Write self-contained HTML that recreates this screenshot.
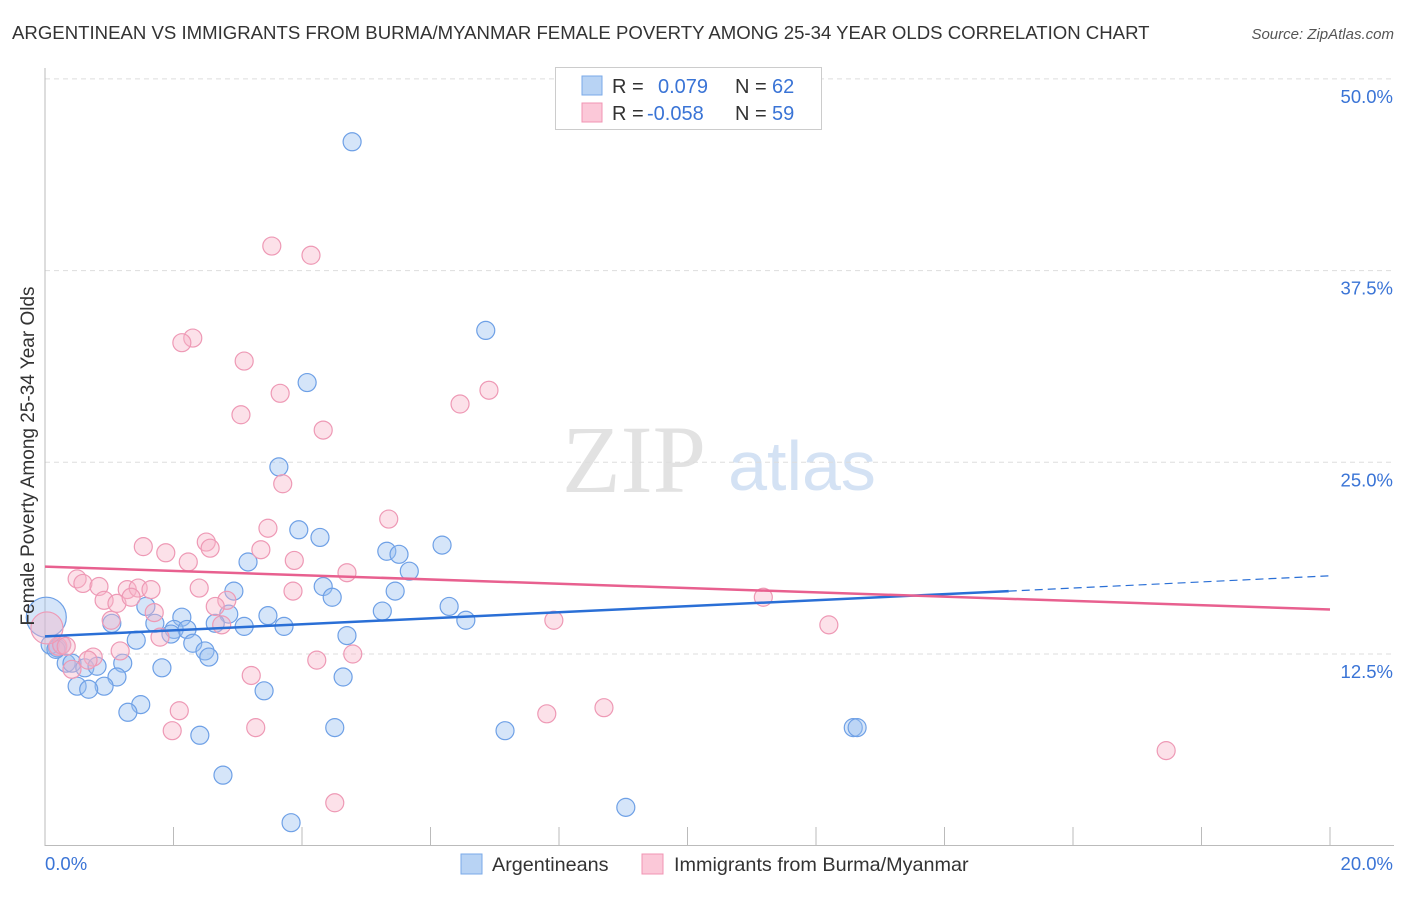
<!DOCTYPE html>
<html><head><meta charset="utf-8"><style>
body{margin:0;background:#fff;font-family:"Liberation Sans",sans-serif;}
svg text{font-family:"Liberation Sans",sans-serif;}
</style></head><body>
<svg id="chart" width="1406" height="892" xmlns="http://www.w3.org/2000/svg">
<text x="12" y="39" font-size="18.6" fill="#333">ARGENTINEAN VS IMMIGRANTS FROM BURMA/MYANMAR FEMALE POVERTY AMONG 25-34 YEAR OLDS CORRELATION CHART</text>
<text x="1394" y="39" font-size="15" fill="#555" font-style="italic" text-anchor="end">Source: ZipAtlas.com</text>
<text x="634" y="492" font-size="96" fill="#e2e2e2" text-anchor="middle" style="font-family:'Liberation Serif',serif">ZIP</text>
<text x="802" y="490" font-size="70" fill="#d4e2f4" text-anchor="middle">atlas</text>
<g id="grid"></g><g id="axes"></g><g id="pts"></g><g id="trend"></g>
<text transform="translate(34,456) rotate(-90)" font-size="19" fill="#333" text-anchor="middle">Female Poverty Among 25-34 Year Olds</text>
<g>
<rect x="555.5" y="67.5" width="266" height="62" fill="#fff" stroke="#ccc"/>
<rect x="582" y="76" width="20" height="19" fill="#b8d3f4" stroke="#7aaae8"/>
<rect x="582" y="103" width="20" height="19" fill="#fbc8d8" stroke="#f094b3"/>
<text x="612" y="93" font-size="20" fill="#333">R =</text><text x="658" y="93" font-size="20" fill="#3a74d6">0.079</text>
<text x="735" y="93" font-size="20" fill="#333">N =</text><text x="772" y="93" font-size="20" fill="#3a74d6">62</text>
<text x="612" y="120" font-size="20" fill="#333">R =</text><text x="647" y="120" font-size="20" fill="#3a74d6">-0.058</text>
<text x="735" y="120" font-size="20" fill="#333">N =</text><text x="772" y="120" font-size="20" fill="#3a74d6">59</text>
</g>
<g>
<rect x="461" y="854" width="21" height="20" fill="#b8d3f4" stroke="#7aaae8"/>
<text x="492" y="871" font-size="19.8" fill="#333">Argentineans</text>
<rect x="642" y="854" width="21" height="20" fill="#fbc8d8" stroke="#f094b3"/>
<text x="674" y="871" font-size="19.8" fill="#333">Immigrants from Burma/Myanmar</text>
</g>
</svg>
<script>
const blueX=[4.78,6.86,4.08,3.64,3.95,4.28,5.32,5.51,6.18,3.16,5.67,4.33,5.45,2.94,4.47,1.57,3.47,2.86,2.13,6.29,5.25,1.71,6.55,1.04,2.01,2.21,2.65,3.10,3.72,1.96,4.70,1.42,2.30,2.49,2.55,0.19,0.26,1.21,1.82,0.33,0.42,0.62,0.81,1.12,0.92,0.50,0.68,4.64,3.41,1.49,1.29,2.41,4.51,7.16,12.58,12.64,2.77,9.04,3.83,0.08,0.17,0.02];
const blueY=[45.9,33.6,30.2,24.7,20.6,20.1,19.2,19.0,19.6,18.5,17.9,16.9,16.6,16.6,16.2,15.6,15.0,15.1,14.9,15.6,15.3,14.5,14.7,14.5,14.1,14.1,14.5,14.3,14.3,13.8,13.7,13.4,13.2,12.7,12.3,12.9,13.1,11.9,11.6,11.9,11.9,11.6,11.7,11.0,10.4,10.4,10.2,11.0,10.1,9.2,8.7,7.2,7.7,7.5,7.7,7.7,4.6,2.5,1.5,13.1,12.8,14.9];
const blueR=[9,9,9,9,9,9,9,9,9,9,9,9,9,9,9,9,9,9,9,9,9,9,9,9,9,9,9,9,9,9,9,9,9,9,9,9,9,9,9,9,9,9,9,9,9,9,9,9,9,9,9,9,9,9,9,9,9,9,9,9,9,20];
const pinkX=[3.53,4.14,2.30,2.13,3.10,3.66,6.46,6.91,3.05,4.33,3.70,5.35,3.47,2.51,1.53,1.88,2.57,3.36,2.23,3.88,4.70,0.50,0.59,0.84,1.28,1.45,1.65,2.40,3.86,0.92,1.12,1.34,2.83,2.65,1.70,1.03,2.75,7.92,12.20,11.18,1.79,0.20,0.26,0.33,1.17,4.79,0.75,0.67,0.42,4.23,3.21,2.09,7.81,8.70,1.98,3.28,4.51,17.45,0.03];
const pinkY=[39.1,38.5,33.1,32.8,31.6,29.5,28.8,29.7,28.1,27.1,23.6,21.3,20.7,19.8,19.5,19.1,19.4,19.3,18.5,18.6,17.8,17.4,17.1,16.9,16.7,16.8,16.7,16.8,16.6,16.0,15.8,16.2,16.0,15.6,15.2,14.7,14.4,14.7,14.4,16.2,13.6,13.0,13.1,13.0,12.7,12.5,12.3,12.1,11.5,12.1,11.1,8.8,8.6,9.0,7.5,7.7,2.8,6.2,14.2];
const pinkR=[9,9,9,9,9,9,9,9,9,9,9,9,9,9,9,9,9,9,9,9,9,9,9,9,9,9,9,9,9,9,9,9,9,9,9,9,9,9,9,9,9,9,9,9,9,9,9,9,9,9,9,9,9,9,9,9,9,9,16];
const yTicks=[12.5,25,37.5,50];
const yTickLabels=["12.5%","25.0%","37.5%","50.0%"];
const xTicks=[0,2,4,6,8,10,12,14,16,18,20];
const blueTrend=[0,13.65,15,16.6,20,17.6];
const pinkTrend=[0,18.2,20,15.4];
const NS="http://www.w3.org/2000/svg";
const X=v=>45+v/20*1285, Y=v=>845.7-v*15.336;
function mk(tag,attrs,parent){const e=document.createElementNS(NS,tag);for(const k in attrs)e.setAttribute(k,attrs[k]);document.getElementById(parent).appendChild(e);return e;}
yTicks.forEach((t,i)=>{
 const l=mk('line',{x1:45,x2:1394,y1:Y(t),y2:Y(t),stroke:'#ddd','stroke-dasharray':'5,4'},'grid');
 
 
 const tx=mk('text',{x:1393,y:Y(t)+24,'font-size':18.5,fill:'#3a74d6','text-anchor':'end'},'grid');tx.textContent=yTickLabels[i];
 
 
});
const ax=mk('line',{x1:45,x2:45,y1:68,y2:846,stroke:'#bbb'},'axes');


const bx=mk('line',{x1:45,x2:1394,y1:845.5,y2:845.5,stroke:'#bbb'},'axes');


xTicks.forEach(t=>{const l=mk('line',{x1:X(t),x2:X(t),y1:827,y2:846,stroke:'#bbb'},'axes');
 
 });
const xl0=mk('text',{x:45,y:870,'font-size':18.5,fill:'#3a74d6'},'axes');xl0.textContent='0.0%';


const xl1=mk('text',{x:1393,y:870,'font-size':18.5,fill:'#3a74d6','text-anchor':'end'},'axes');xl1.textContent='20.0%';


blueX.forEach((x,i)=>{const c=mk('circle',{cx:X(x),cy:Y(blueY[i]),r:blueR[i],fill:'rgba(150,190,240,0.4)',stroke:'#6ea0e6','stroke-width':1.2},'pts');
 
 });
pinkX.forEach((x,i)=>{const c=mk('circle',{cx:X(x),cy:Y(pinkY[i]),r:pinkR[i],fill:'rgba(248,180,200,0.4)',stroke:'#ee99b5','stroke-width':1.2},'pts');
 
 });
const b1=mk('line',{x1:X(blueTrend[0]),y1:Y(blueTrend[1]),x2:X(blueTrend[2]),y2:Y(blueTrend[3]),stroke:'#2a6fd6','stroke-width':2.5},'trend');


const b2=mk('line',{x1:X(blueTrend[2]),y1:Y(blueTrend[3]),x2:X(blueTrend[4]),y2:Y(blueTrend[5]),stroke:'#2a6fd6','stroke-width':1.2,'stroke-dasharray':'8,5'},'trend');


const p1=mk('line',{x1:X(pinkTrend[0]),y1:Y(pinkTrend[1]),x2:X(pinkTrend[2]),y2:Y(pinkTrend[3]),stroke:'#e8608f','stroke-width':2.5},'trend');


</script>
</body></html>
